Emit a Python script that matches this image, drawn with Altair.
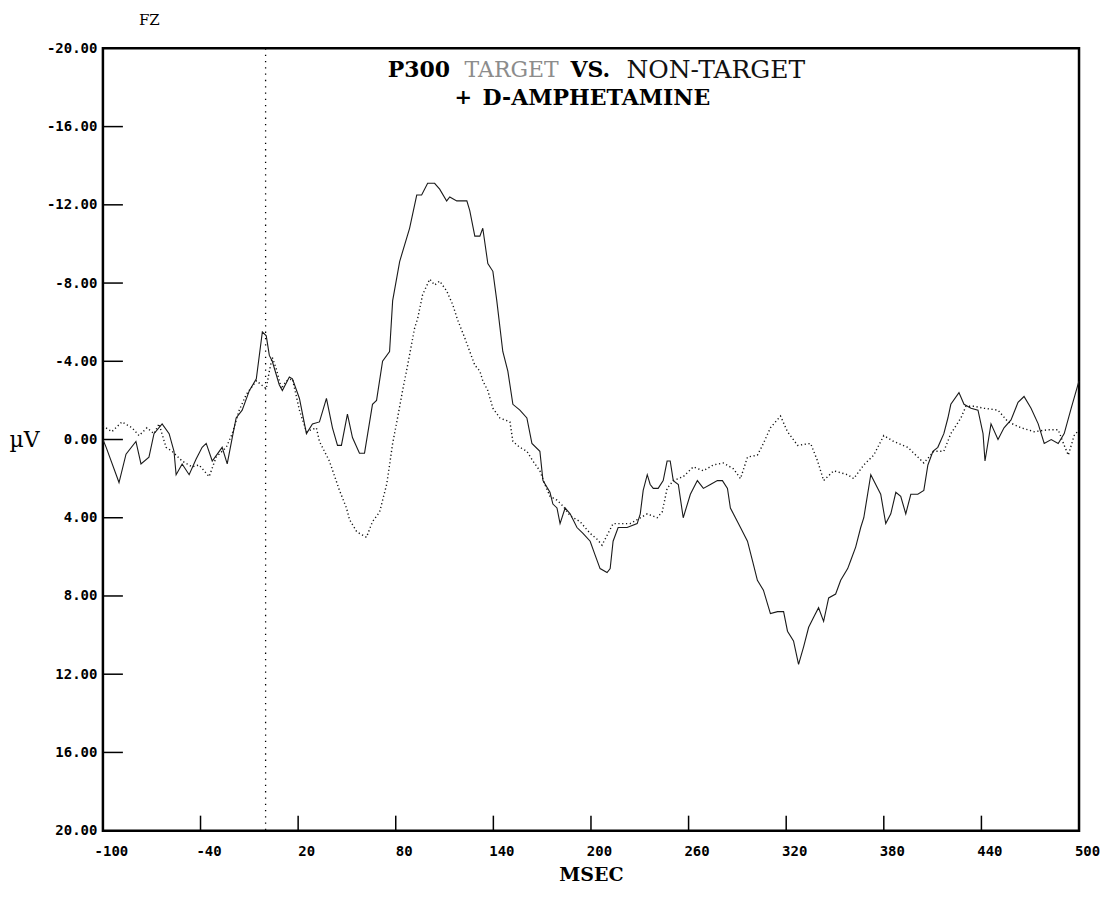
import altair as alt
import pandas as pd

# ---------------- data ----------------
target_ms = [-100, -98, -90.1, -85.8, -79.7, -76.6, -71.7, -68.6, -63.6, -59.3,
             -56.3, -55.0, -51.3, -47.0, -42.7, -39.0, -36.5, -32.8, -26.7, -23.6,
             -20.5, -18.1, -14.4, -10.0, -5.7, -2.0, 0.4, 2.3, 4.1, 8.4,
             10.3, 14.6, 16.5, 20.8, 25.1, 28.8, 33.1, 37.4, 41.1, 44.2,
             46.6, 50.3, 53.4, 57.7, 60.8, 65.7, 68.2, 71.9, 76.2, 78.1,
             82.4, 88.5, 92.9, 95.9, 99.6, 103.9, 107.0, 111.3, 113.2, 117.5,
             123.7, 125.5, 128.6, 131.7, 133.5, 136.6, 139.7, 142.1, 145.8, 148.9,
             152.0, 156.3, 160.6, 163.7, 168.6, 170.5, 174.8, 176.6, 179.1, 181.0,
             184.1, 187.2, 191.4, 195.1, 199.5, 202.5, 205.6, 209.9, 211.8, 213.6,
             216.7, 222.2, 228.4, 230.3, 232.1, 234.6, 236.4, 238.3, 241.3, 244.4,
             246.8, 248.7, 250.6, 253.7, 256.7, 261.1, 265.4, 269.1, 273.4, 277.7,
             280.8, 283.9, 285.7, 288.8, 291.9, 296.2, 299.3, 302.3, 306.0, 310.3,
             314.7, 318.4, 320.8, 324.5, 327.6, 330.7, 333.8, 336.8, 339.9, 343.0,
             346.1, 350.4, 353.5, 357.8, 359.6, 362.7, 365.8, 367.7, 372.0, 376.3,
             378.1, 381.2, 384.3, 387.4, 390.4, 393.5, 396.6, 400.9, 404.6, 407.1,
             410.2, 413.2, 416.9, 419.4, 421.2, 426.2, 429.3, 433.6, 437.9, 441.0,
             442.2, 445.9, 450.2, 453.9, 458.2, 462.5, 466.2, 470.5, 474.9, 478.6,
             482.9, 487.2, 490.9, 495.2, 500.0]
target_uv = [0.0, 0.4, 2.2, 0.75, 0.1, 1.25, 0.9, -0.3, -0.8, -0.3,
             0.6, 1.8, 1.25, 1.8, 1.0, 0.4, 0.2, 1.1, 0.4, 1.25,
             -0.1, -1.1, -1.5, -2.5, -3.1, -5.5, -5.3, -4.3, -4.0, -2.8,
             -2.5, -3.2, -3.1, -2.1, -0.3, -0.8, -0.9, -2.1, -0.6, 0.3,
             0.3, -1.3, -0.1, 0.7, 0.7, -1.8, -2.0, -4.0, -4.5, -7.1,
             -9.1, -10.8, -12.5, -12.5, -13.1, -13.1, -12.8, -12.2, -12.4, -12.2,
             -12.2, -11.7, -10.4, -10.4, -10.8, -9.0, -8.6, -7.1, -4.5, -3.5,
             -1.8, -1.5, -1.1, 0.2, 0.6, 2.1, 2.7, 3.3, 3.5, 4.3,
             3.5, 3.8, 4.5, 4.8, 5.2, 5.9, 6.6, 6.8, 6.6, 5.2,
             4.5, 4.5, 4.3, 3.8, 2.6, 1.8, 2.3, 2.5, 2.5, 2.1,
             1.1, 1.1, 2.1, 2.3, 4.0, 2.8, 2.1, 2.5, 2.3, 2.1,
             2.1, 2.5, 3.5, 4.0, 4.5, 5.2, 6.2, 7.2, 7.7, 8.9,
             8.8, 8.8, 9.8, 10.3, 11.5, 10.6, 9.6, 9.1, 8.6, 9.3,
             8.1, 7.9, 7.2, 6.6, 6.2, 5.5, 4.5, 4.0, 1.8, 2.5,
             2.8, 4.3, 3.8, 2.7, 2.9, 3.8, 2.8, 2.8, 2.6, 1.3,
             0.6, 0.4, -0.3, -1.1, -1.8, -2.4, -1.8, -1.6, -1.5, -0.3,
             1.1, -0.8, 0.0, -0.6, -1.0, -1.9, -2.2, -1.6, -0.8, 0.2,
             0.0, 0.2, -0.3, -1.6, -3.0]

nontarget_ms = [-100, -98.2, -94.5, -88.3, -82.1, -77.8, -72.9, -68.6, -65.5, -61.2,
                -57.5, -51.3, -45.2, -40.9, -34.7, -30.4, -24.2, -20.5, -16.2, -11.9,
                -5.7, 0.4, 2.3, 4.1, 6.6, 9.7, 12.8, 16.5, 20.8, 25.1,
                31.2, 33.1, 39.2, 45.4, 49.7, 51.6, 55.9, 57.7, 62.0, 65.7,
                70.1, 74.4, 76.2, 78.1, 81.1, 84.2, 87.3, 89.8, 91.6, 93.5,
                96.5, 100.9, 103.9, 107.0, 111.3, 115.0, 118.1, 122.4, 125.5, 128.6,
                131.7, 133.5, 136.6, 139.7, 144.0, 150.2, 152.0, 156.3, 160.6, 164.3,
                168.6, 171.7, 174.8, 179.1, 182.8, 187.2, 193.3, 199.5, 203.8, 206.8,
                209.9, 213.6, 217.9, 224.1, 228.4, 234.6, 240.7, 243.8, 246.8, 250.6,
                256.7, 262.9, 269.1, 275.2, 281.4, 287.6, 291.9, 296.2, 302.3, 306.0,
                310.3, 316.5, 320.8, 327.0, 335.0, 339.3, 343.0, 349.2, 357.8, 361.5,
                367.7, 373.8, 380.0, 386.1, 394.8, 400.9, 404.6, 410.8, 416.9, 421.2,
                427.4, 430.5, 435.4, 441.6, 450.2, 456.4, 464.4, 472.4, 481.0, 487.2,
                490.9, 493.4, 497.0, 500.0]
nontarget_uv = [-0.7, -0.6, -0.4, -0.9, -0.6, -0.2, -0.6, -0.3, -0.8, 0.4,
                0.6, 1.1, 1.4, 1.3, 1.9, 0.9, 0.4, -0.3, -1.5, -2.3,
                -3.0, -2.6, -3.5, -4.2, -3.6, -2.6, -3.0, -3.1, -1.5, -0.4,
                -0.6, 0.1, 1.1, 2.6, 3.5, 4.1, 4.7, 4.8, 5.0, 4.2,
                3.7, 2.3, 1.3, 0.2, -1.1, -2.5, -3.8, -4.9, -5.7, -6.2,
                -7.4, -8.2, -7.9, -8.1, -7.6, -6.9, -6.1, -5.2, -4.5, -3.8,
                -3.5, -3.0, -2.5, -1.6, -1.1, -0.9, 0.1, 0.4, 0.6, 1.1,
                1.6, 2.3, 2.9, 3.1, 3.4, 3.9, 4.2, 4.8, 5.1, 5.4,
                4.9, 4.3, 4.3, 4.3, 4.1, 3.8, 4.0, 3.7, 2.5, 2.1,
                1.9, 1.4, 1.6, 1.3, 1.2, 1.5, 2.0, 0.9, 0.8, 0.2,
                -0.6, -1.2, -0.4, 0.3, 0.2, 1.1, 2.1, 1.6, 1.8, 2.0,
                1.3, 0.8, -0.2, 0.1, 0.4, 0.9, 1.2, 0.6, 0.6, -0.3,
                -1.1, -1.7, -1.7, -1.6, -1.5, -0.9, -0.6, -0.4, -0.5, -0.5,
                0.3, 0.8, -0.2, -0.5]

x_label_values = [-100, -40, 20, 80, 140, 200, 260, 320, 380, 440, 500]
x_tick_values = [-40, 20, 80, 140, 200, 260, 320, 380, 440]
y_label_values = [-20, -16, -12, -8, -4, 0, 4, 8, 12, 16, 20]
y_tick_values = [-16, -12, -8, -4, 0, 4, 8, 12, 16]
stimulus_ms = [0]

title_line1 = ["P300", "TARGET", "VS.", "NON-TARGET"]
title_line2 = ["+", "D-AMPHETAMINE"]
electrode = "FZ"

# ---------------- layout ----------------
W, H = 977, 783
MONO = "DejaVu Sans Mono"
SERIF = "DejaVu Serif"

xs = alt.Scale(domain=[-100, 500], nice=False, zero=False)
ys = alt.Scale(domain=[-20, 20], reverse=True, nice=False, zero=False)

x_axis = alt.Axis(
    values=x_label_values, title="MSEC", ticks=False, domain=False, grid=False,
    labelExpr="replace(format(datum.value, 'd'), '\u2212', '-')",
    labelFont=MONO, labelFontSize=14, labelFontWeight="bold", labelColor="black",
    labelPadding=14, labelOffset=8, labelFlush=False, labelOverlap=False,
    titleFont=SERIF, titleFontSize=19, titleFontWeight="bold", titleColor="black",
    titlePadding=7,
)
y_axis = alt.Axis(
    values=y_label_values, title="\u00b5V", ticks=False, domain=False, grid=False,
    labelExpr="replace(format(datum.value, '.2f'), '\u2212', '-')",
    labelFont=MONO, labelFontSize=14, labelFontWeight="bold", labelColor="black",
    labelPadding=6, labelFlush=False, labelOverlap=False,
    titleFont=SERIF, titleFontSize=22, titleFontWeight="normal", titleColor="black",
    titleAngle=0, titleX=-79, titleY=391, titleAlign="center", titleBaseline="middle",
)

df_t = pd.DataFrame({"ms": target_ms, "uv": target_uv})
df_n = pd.DataFrame({"ms": nontarget_ms, "uv": nontarget_uv})

target_line = alt.Chart(df_t).mark_line(color="#1a1a1a", strokeWidth=1.1).encode(
    x=alt.X("ms:Q", scale=xs, axis=x_axis),
    y=alt.Y("uv:Q", scale=ys, axis=y_axis),
)
nontarget_line = alt.Chart(df_n).mark_line(
    color="#111111", strokeWidth=1.4, strokeDash=[1.2, 2.6]
).encode(
    x=alt.X("ms:Q", scale=xs),
    y=alt.Y("uv:Q", scale=ys),
)

stim = alt.Chart(pd.DataFrame({"ms": stimulus_ms})).mark_rule(
    color="black", strokeWidth=1.3, strokeDash=[1.3, 5]
).encode(x=alt.X("ms:Q", scale=xs))

x_ticks = alt.Chart(pd.DataFrame({"ms": x_tick_values})).mark_rule(
    color="black", strokeWidth=1.5
).encode(x=alt.X("ms:Q", scale=xs), y=alt.value(H), y2=alt.value(H - 15))

y_ticks = alt.Chart(pd.DataFrame({"uv": y_tick_values})).mark_rule(
    color="black", strokeWidth=1.5
).encode(y=alt.Y("uv:Q", scale=ys), x=alt.value(0), x2=alt.value(20))


def label(text, x, y, size, weight="normal", color="black", font=SERIF):
    return alt.Chart(pd.DataFrame({"t": [text]})).mark_text(
        align="left", baseline="middle", font=font, fontSize=size,
        fontWeight=weight, color=color
    ).encode(text="t:N", x=alt.value(x), y=alt.value(y))


texts = [
    label(title_line1[0], 285, 22, 22, "bold"),
    label(title_line1[1], 362, 22, 22, "normal", "#8c8c8c"),
    label(title_line1[2], 468, 22, 22, "bold"),
    label(title_line1[3], 524, 22, 25, "normal", "#111111"),
    label(title_line2[0], 352, 50, 21, "bold"),
    label(title_line2[1], 380, 50, 22, "bold"),
    label(electrode, 36, -28, 15, "normal"),
]

chart = alt.layer(
    target_line, nontarget_line, stim, x_ticks, y_ticks, *texts
).properties(
    width=W, height=H,
    autosize=alt.AutoSizeParams(type="none"),
    padding={"left": 95, "top": 40, "right": 30, "bottom": 70},
    background="white",
).configure_view(
    stroke="black", strokeWidth=2.5
)

chart.save("out.html", embed_options={"renderer": "svg", "actions": False})
